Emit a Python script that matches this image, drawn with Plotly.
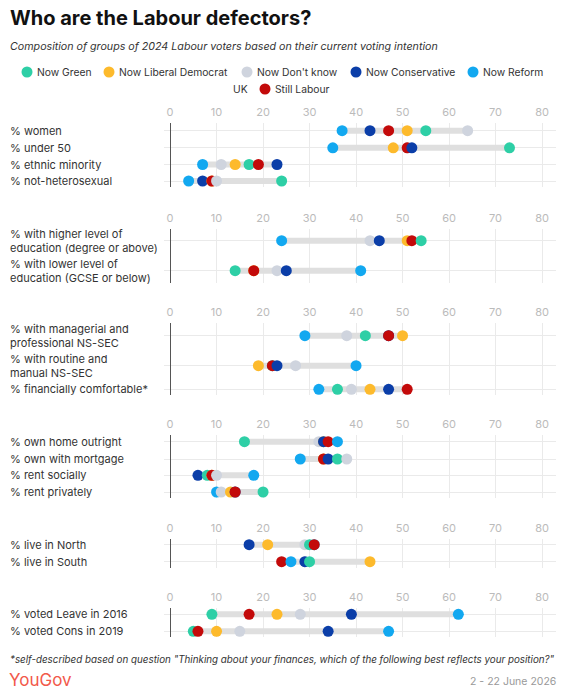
import plotly.graph_objects as go

W, H = 567, 699
FONT = "Inter"

# ---------------- data ----------------
series = ["Now Green", "Now Liberal Democrat", "Now Don't know",
          "Now Conservative", "Now Reform UK", "Still Labour"]
colors = ["#2ECFA6", "#FDBA2C", "#CFD4DE", "#0B3EA8", "#12A8F0", "#C30A0A"]

categories = [
    "% women", "% under 50", "% ethnic minority", "% not-heterosexual",
    "% with higher level of<br>education (degree or above)",
    "% with lower level of<br>education (GCSE or below)",
    "% with managerial and<br>professional NS-SEC",
    "% with routine and<br>manual NS-SEC",
    "% financially comfortable*",
    "% own home outright", "% own with mortgage", "% rent socially", "% rent privately",
    "% live in North", "% live in South",
    "% voted Leave in 2016", "% voted Cons in 2019",
]
panel_sizes = [4, 2, 3, 4, 2, 2]

green        = [55, 73, 17, 24, 54, 14, 42, 22, 36, 16, 36, 8, 20, 30, 30, 9, 5]
libdem       = [51, 48, 14, 9, 51, 18, 50, 19, 43, 33, 33, 9, 13, 21, 43, 23, 10]
dontknow     = [64, 51, 11, 10, 43, 23, 38, 27, 39, 32, 38, 10, 11, 29, 29, 28, 15]
conservative = [43, 52, 23, 7, 45, 25, 47, 23, 47, 33, 34, 6, 14, 17, 29, 39, 34]
reform       = [37, 35, 7, 4, 24, 41, 29, 40, 32, 36, 28, 18, 10, 31, 26, 62, 47]
labour       = [47, 51, 19, 9, 52, 18, 47, 22, 51, 34, 33, 9, 14, 31, 24, 17, 6]
values = [green, libdem, dontknow, conservative, reform, labour]

tick_vals = [0, 10, 20, 30, 40, 50, 60, 70, 80]

# ---------------- layout geometry (pixels) ----------------
panel_top = [123, 229, 323, 435, 539, 608]
panel_bottom = [187, 283, 395, 498, 568, 637]
row_px = [130.7, 147.8, 164.5, 181, 240.7, 270.7, 335.7, 365.7, 389.3,
          441.7, 459, 475.3, 492, 544.7, 561.7, 614.3, 631.3]
x_left, x_right = 164, 556
x_range = [-1.3, 83]


def px(x):
    return x / W


def py(y):
    return 1 - y / H


fig = go.Figure()
layout = dict(
    width=W, height=H, margin=dict(l=0, r=0, t=0, b=0),
    paper_bgcolor="white", plot_bgcolor="white",
    showlegend=False, font=dict(family=FONT, color="#333"),
)
annotations = []
shapes = []

start = 0
for p, n in enumerate(panel_sizes):
    idx = list(range(start, start + n))
    start += n
    ax = "" if p == 0 else str(p + 1)
    xref, yref = "x" + ax, "y" + ax

    # connector bars
    lx, ly = [], []
    for i in idx:
        vals = [v[i] for v in values]
        lx += [min(vals), max(vals), None]
        ly += [row_px[i], row_px[i], None]
    fig.add_trace(go.Scatter(x=lx, y=ly, mode="lines", xaxis=xref, yaxis=yref,
                             line=dict(color="#DFDFDF", width=6), hoverinfo="skip"))

    # dots: within each row draw in ascending order (larger value on top)
    dx, dy, dc, dt = [], [], [], []
    for i in idx:
        pts = sorted([(values[s][i], s) for s in range(len(series))], key=lambda t: t[0])
        for v, s in pts:
            dx.append(v)
            dy.append(row_px[i])
            dc.append(colors[s])
            dt.append(series[s])
    fig.add_trace(go.Scatter(x=dx, y=dy, mode="markers", xaxis=xref, yaxis=yref,
                             marker=dict(size=11, color=dc, line=dict(width=0)),
                             text=dt, hovertemplate="%{text}: %{x}<extra></extra>"))

    layout["xaxis" + ax] = dict(
        domain=[px(x_left), px(x_right)], range=x_range, anchor=yref, side="top",
        tickvals=tick_vals, ticks="", showline=False, ticklabelstandoff=4,
        showgrid=True, gridcolor="#EAEAEA", gridwidth=1,
        zeroline=True, zerolinecolor="#555", zerolinewidth=1,
        tickfont=dict(family=FONT, size=11, color="#BBBBBB"), fixedrange=True,
    )
    layout["yaxis" + ax] = dict(
        domain=[py(panel_bottom[p]), py(panel_top[p])],
        range=[panel_bottom[p], panel_top[p]], anchor=xref,
        tickvals=[row_px[i] for i in idx], showticklabels=False, ticks="",
        showgrid=True, gridcolor="#EAEAEA", gridwidth=1, zeroline=False,
        showline=False, fixedrange=True,
    )
    for i in idx:
        annotations.append(dict(
            x=px(8), y=py(row_px[i]), xref="paper", yref="paper",
            xanchor="left", yanchor="middle", align="left", showarrow=False,
            text=categories[i], font=dict(family=FONT, size=11, color="#333"),
        ))

# title & subtitle
annotations.append(dict(x=px(8), y=py(18), xref="paper", yref="paper", xanchor="left",
                        yanchor="middle", showarrow=False,
                        text="<b>Who are the Labour defectors?</b>",
                        font=dict(family=FONT, size=20, color="#111")))
annotations.append(dict(x=px(8), y=py(47), xref="paper", yref="paper", xanchor="left",
                        yanchor="middle", showarrow=False,
                        text="<i>Composition of groups of 2024 Labour voters based on their current voting intention</i>",
                        font=dict(family=FONT, size=10.7, color="#333")))

# legend (manual, wraps like reference)
legend_items = [
    (27, 72, 0, "Now Green"), (109, 72, 1, "Now Liberal Democrat"),
    (247, 72, 2, "Now Don't know"), (356, 72, 3, "Now Conservative"),
    (473, 72, 4, "Now Reform"), (265, 89, 5, "Still Labour"),
]
for cx, cy, s, label in legend_items:
    shapes.append(dict(type="circle", xref="paper", yref="paper",
                       xsizemode="pixel", ysizemode="pixel",
                       xanchor=px(cx), yanchor=py(cy), x0=-5.5, x1=5.5, y0=-5.5, y1=5.5,
                       fillcolor=colors[s], line=dict(width=0)))
    annotations.append(dict(x=px(cx + 8), y=py(cy), xref="paper", yref="paper",
                            xanchor="left", yanchor="middle", showarrow=False, text=label,
                            font=dict(family=FONT, size=10.3, color="#333")))
annotations.append(dict(x=px(250), y=py(89), xref="paper", yref="paper",
                        xanchor="right", yanchor="middle", showarrow=False, text="UK",
                        font=dict(family=FONT, size=10.3, color="#333")))

# footer
annotations.append(dict(x=px(8), y=py(659), xref="paper", yref="paper", xanchor="left",
                        yanchor="middle", showarrow=False,
                        text="<i>*self-described based on question \"Thinking about your finances, which of the following best reflects your position?\"</i>",
                        font=dict(family=FONT, size=9.8, color="#333")))
annotations.append(dict(x=px(7), y=py(680), xref="paper", yref="paper", xanchor="left",
                        yanchor="middle", showarrow=False, text="YouGov",
                        font=dict(family=FONT, size=17, color="#F2594B")))
annotations.append(dict(x=px(558), y=py(681), xref="paper", yref="paper", xanchor="right",
                        yanchor="middle", showarrow=False, text="2 - 22 June 2026",
                        font=dict(family=FONT, size=10.5, color="#999")))

layout["annotations"] = annotations
layout["shapes"] = shapes
fig.update_layout(**layout)
fig.write_html("out.html")
